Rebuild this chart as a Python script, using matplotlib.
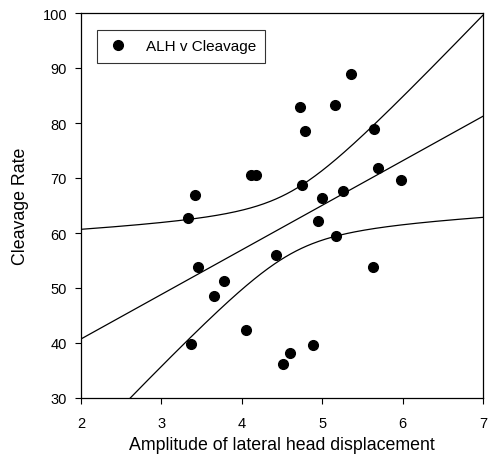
import numpy as np
import matplotlib
matplotlib.use("Agg")
import matplotlib.pyplot as plt

plt.rcParams['font.family'] = ['Liberation Sans', 'DejaVu Sans']

# ALH (amplitude of lateral head displacement) and cleavage rate per sample
alh = [3.37, 3.46, 3.65, 3.78, 4.05, 3.42, 3.33, 4.12, 4.18, 4.72, 4.78, 5.16, 5.36,
       5.65, 4.75, 5.70, 5.98, 5.26, 5.00, 4.95, 5.17, 4.43, 5.63, 4.88, 4.60, 4.51]
cleavage = [39.8, 53.9, 48.5, 51.2, 42.3, 67.0, 62.7, 70.6, 70.5, 83.0, 78.6, 83.3, 88.9,
            79.0, 68.8, 71.8, 69.7, 67.6, 66.3, 62.1, 59.5, 56.0, 53.9, 39.6, 38.1, 36.2]

x_ticks = [2, 3, 4, 5, 6, 7]
y_ticks = [30, 40, 50, 60, 70, 80, 90, 100]

x = np.array(alh)
y = np.array(cleavage)
n = len(x)

# ordinary least squares fit with 95% confidence band for the mean
b1, b0 = np.polyfit(x, y, 1)
resid = y - (b0 + b1 * x)
s = np.sqrt(np.sum(resid ** 2) / (n - 2))
t_crit = 2.064  # t(0.975, df=24)
xs = np.linspace(2, 7, 300)
fit = b0 + b1 * xs
se = s * np.sqrt(1.0 / n + (xs - x.mean()) ** 2 / np.sum((x - x.mean()) ** 2))
upper = fit + t_crit * se
lower = fit - t_crit * se

fig = plt.figure(figsize=(4.9, 4.64), dpi=100)
ax = fig.add_axes([81 / 490, 1 - 399 / 464, (483 - 81) / 490, (399 - 14) / 464])

ax.plot(alh, cleavage, 'o', color='black', markersize=7, label='ALH v Cleavage',
        linestyle='none', zorder=3)
ax.plot(xs, fit, color='black', lw=0.9)
ax.plot(xs, upper, color='black', lw=0.9)
ax.plot(xs, lower, color='black', lw=0.9)

ax.set_xlim(2, 7)
ax.set_ylim(30, 100)
ax.set_xticks(x_ticks)
ax.set_yticks(y_ticks)
ax.tick_params(direction='out', length=4, width=0.8, labelsize=10.5)
ax.tick_params(axis='x', pad=9)
ax.tick_params(axis='y', pad=6)
for sp in ax.spines.values():
    sp.set_linewidth(0.9)

ax.set_xlabel('Amplitude of lateral head displacement', fontsize=12.8, labelpad=4)
ax.set_ylabel('Cleavage Rate', fontsize=12.8, labelpad=10)

leg = ax.legend(loc='upper left', bbox_to_anchor=(0.04, 0.955), fontsize=11,
                frameon=True, fancybox=False, borderpad=0.6, handletextpad=1.0,
                handlelength=1.6, borderaxespad=0.0,
                edgecolor='black', markerscale=1.0)
leg.get_frame().set_linewidth(0.8)

fig.savefig('out.png', dpi=100)
